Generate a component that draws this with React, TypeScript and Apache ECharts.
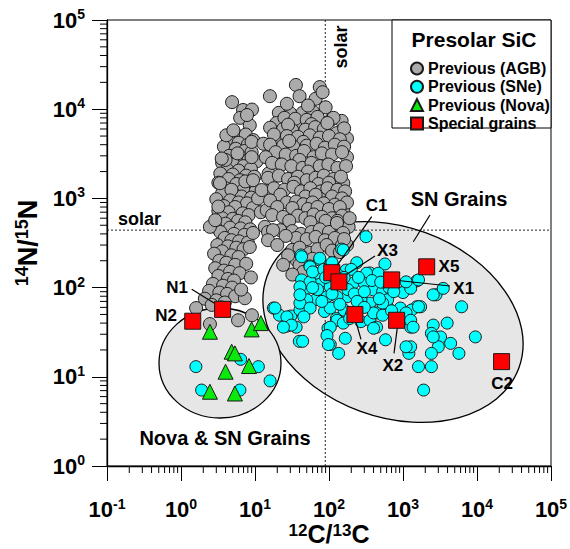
import React, { useEffect, useRef } from 'react';
import * as echarts from 'echarts';

const FONT = 'Liberation Sans, Arial, Helvetica, sans-serif';

// ---- Data: [12C/13C, 14N/15N] ----
const agbLeft: number[][] = [
  [4.9, 12000], [6.9, 9800], [9.1, 9900], [6.3, 8000], [8.5, 6600], [7.8, 8600], [5.2, 5500], [7.5, 5200], [4.3, 4700], [9.5, 4500], [6.0, 4200], [8.0, 4000],
  [3.8, 3800], [5.5, 3600], [7.2, 3400], [9.0, 3300], [4.5, 3000], [6.4, 2900], [8.2, 2700], [3.6, 2500], [5.1, 2400], [10.5, 2600], [7.0, 2300], [4.2, 2100], [6.0, 2050], [8.8, 2150], [5.8, 3200], [4.0, 2700],
  [3.4, 1900], [5.0, 1850], [7.6, 1800], [9.8, 1750], [4.4, 1650], [6.3, 1600], [3.2, 1500], [5.6, 1450], [8.4, 1400], [4.0, 1300], [7.0, 1250], [10.2, 1200], [3.6, 1150], [5.3, 1100], [6.6, 1050], [8.9, 1020], [4.8, 1250], [7.4, 1550],
  [3.0, 980], [4.6, 950], [6.0, 900], [7.8, 880], [3.8, 820], [5.4, 800], [9.4, 780], [3.2, 720], [4.4, 700], [6.8, 680], [8.2, 650], [3.6, 600], [5.0, 590], [5.9, 560], [7.4, 540], [4.0, 520], [12, 700], [11, 1000],
  [2.9, 480], [4.6, 470], [6.4, 460], [8.6, 450], [3.4, 420], [5.2, 400], [7.2, 390], [3.9, 360], [4.8, 340], [6.1, 330], [8.0, 320], [3.1, 300], [4.3, 290], [5.6, 280], [7.0, 270], [3.6, 255], [9.4, 410], [8.5, 285],
  [2.8, 240], [4.8, 230], [6.0, 220], [3.3, 200], [4.1, 190], [5.4, 180], [7.6, 185], [2.9, 165], [3.8, 155], [4.6, 150], [6.2, 145], [3.2, 135], [4.3, 125], [5.2, 120], [2.7, 110], [3.7, 105], [4.9, 100],
  [2.4, 92], [3.3, 88], [4.2, 85], [5.4, 80], [2.1, 75], [3.0, 72], [3.9, 68], [2.6, 64], [7.3, 76], [5.9, 43], [9.1, 49], [1.6, 59], [2.46, 39], [3.5, 60], [6.5, 95], [8.8, 130],
  [4.1, 5100], [5.1, 5800], [9.0, 4300], [3.55, 2800], [9.0, 2900], [3.36, 1480], [9.4, 1600], [3.2, 810], [2.46, 480], [2.9, 570]
];

const agbRight: number[][] = [
  [35.7, 18700], [75, 17700], [15.9, 14000], [40, 14000], [66, 13100], [82, 15500], [21, 9100], [30, 9000], [44, 9100], [61, 9300], [52, 11000], [27, 11500], [90, 10500],
  [19.5, 7000], [40, 6100], [148, 7400], [104, 7500], [128, 5400], [175, 4700], [20, 4500], [20, 3200], [13, 4100], [15.3, 1900], [15.9, 1240], [14.4, 740], [13.6, 480], [156, 1480], [175, 2900], [156, 740], [184, 480], [12.3, 1240],
  [25, 8000], [35, 7800], [50, 7600], [70, 8200], [115, 8000], [58, 6800],
  [16, 6200], [24, 6000], [32, 5800], [48, 5900], [65, 6300], [85, 6000], [160, 6100], [28, 6700], [95, 7000],
  [18, 5200], [27, 5000], [38, 4900], [55, 5100], [75, 4800], [100, 5000], [140, 4600], [45, 4300],
  [16, 4000], [24, 3900], [33, 3800], [50, 3900], [68, 4100], [88, 3700], [120, 4000], [160, 3800], [29, 4400],
  [19, 3300], [26, 3100], [36, 3000], [46, 3400], [62, 2900], [80, 3200], [110, 3100], [150, 3300], [14, 2900], [40, 2700],
  [17, 2500], [23, 2400], [31, 2300], [44, 2200], [58, 2500], [75, 2300], [98, 2400], [130, 2200], [170, 2300], [52, 2000],
  [15, 1700], [21, 1800], [28, 1650], [38, 1750], [50, 1600], [66, 1700], [85, 1800], [115, 1650], [145, 1750], [34, 1500], [72, 1450], [100, 1500],
  [18, 1300], [25, 1250], [33, 1350], [42, 1200], [56, 1300], [78, 1200], [95, 1300], [130, 1250], [165, 1200], [22, 1100], [48, 1050], [66, 1100], [110, 1050], [150, 1000],
  [16, 950], [27, 900], [36, 920], [45, 860], [60, 900], [85, 880], [120, 850], [175, 900], [20, 800], [32, 780], [52, 760], [70, 800], [100, 760], [140, 800],
  [17, 650], [24, 620], [38, 640], [48, 600], [62, 660], [80, 620], [110, 600], [150, 640], [29, 560], [56, 540], [90, 560], [130, 560], [190, 600],
  [15, 420], [22, 440], [32, 430], [42, 400], [58, 420], [75, 450], [100, 420], [128, 530], [155, 410], [36, 360], [50, 350], [66, 370], [88, 340], [120, 360], [26, 380], [17.5, 440],
  [15, 340], [20, 300], [32, 265], [40, 280], [55, 245], [70, 270], [93, 300], [36.5, 203], [40, 180], [60, 210], [28, 230], [110, 260], [150, 300], [24, 180], [45, 150], [32, 140],
  [175, 300], [140, 250], [160, 350]
];

const sneGrains: number[][] = [
  [316, 372], [148, 270], [41.8, 232], [75, 204], [55, 175], [237, 190], [570, 184], [170, 157], [357, 146], [450, 135], [42.6, 122], [47.4, 96], [75, 116], [323, 110],
  [1530, 119], [1170, 102], [1000, 88], [2790, 83], [6200, 61], [9500, 28], [17.7, 59], [21.4, 49], [30.5, 48], [40.5, 56], [27.1, 37], [36, 36], [39.7, 25], [44, 25],
  [97, 35], [104, 23], [166, 27], [126, 45], [160, 56], [270, 41.5], [450, 52], [580, 26], [615, 61], [1100, 41.5], [1530, 61], [1270, 36], [1200, 18.3], [1270, 21.7],
  [2560, 38], [2420, 30.7], [3220, 28], [3000, 21.7], [4400, 23.7], [2420, 18.3], [2420, 13], [1620, 13], [1900, 7.1], [1300, 56], [1730, 61], [5700, 18.3],
  [42.6, 222], [75, 213], [55.5, 171], [66, 145], [156, 264], [322, 145], [463, 145], [212, 112], [300, 112], [400, 94], [530, 90], [620, 73], [530, 67], [357, 67],
  [270, 73], [175, 79], [128, 79], [94, 79], [66, 73], [50, 73], [40.5, 67], [104, 102], [143, 112], [55.5, 116], [40.5, 102], [40.5, 83], [55.5, 59], [87, 54],
  [104, 59], [128, 43], [156, 40], [104, 36], [94, 29], [98, 23], [357, 43], [440, 36], [400, 52], [530, 49], [920, 59], [1100, 52], [1620, 61], [1270, 43],
  [1370, 36], [3950, 40], [1270, 98], [1100, 116], [1620, 122], [2560, 83], [3500, 98], [1100, 21.7], [2560, 28],
  [18.6, 59], [27, 47], [31, 38], [24.2, 36], [45.7, 47], [135, 18.3],
  [60, 150], [85, 160], [110, 190], [200, 160], [250, 130], [180, 95], [220, 85], [300, 90], [90, 130], [130, 140], [70, 95], [160, 130], [240, 70], [300, 60],
  [200, 50], [140, 65], [80, 70], [60, 100], [110, 85], [380, 120], [500, 115], [650, 100], [750, 90], [480, 75], [700, 55], [190, 45], [400, 35],
  [1.59, 13], [1.9, 7.1], [6.25, 7.1], [6.4, 15.7], [11.1, 13], [16, 9.0]
];

const novaGrains: number[][] = [
  [2.46, 32], [9.0, 34], [12.0, 40], [4.84, 19.1], [5.35, 18.3], [8.3, 13.2], [4.0, 11.4], [2.46, 6.8], [5.35, 6.5]
];

const specialNames = ['N1', 'N2', 'C1', 'X3', 'X1', 'X5', 'X4', 'X2', 'C2'];
const specialC = [3.65, 1.44, 109, 136, 703, 2090, 224, 820, 21500];
const specialN = [57, 42, 147, 116, 122, 171, 50, 43, 14.8];

const solarC = 89;
const solarN = 441;

const seriesNames = ['Previous (AGB)', 'Previous (SNe)', 'Previous (Nova)', 'Special grains'];

// ---- Annotation layout (pixels) ----
const labelPos: Record<string, number[]> = {
  N1: [177, 287.5], N2: [166, 315.5], C1: [376.7, 205], X3: [387.5, 250], X1: [463.7, 288.3],
  X5: [449, 266.3], X4: [367, 348.3], X2: [392.8, 365.5], C2: [502, 383]
};
const leaderLines: number[][] = [
  [191.7, 289.3, 221.7, 307.7],
  [371.7, 216.7, 335, 268.3],
  [375, 256, 339.3, 279.3],
  [393.3, 280, 450, 286],
  [355, 318.3, 361, 339.3],
  [398.3, 320, 394, 353.3],
  [430, 215, 413.3, 241.7]
];

function supRich(base: number, sup: number, baseLH: number) {
  return {
    b: { fontSize: base, fontWeight: 'bold', fontFamily: FONT, color: '#000', lineHeight: baseLH },
    s: { fontSize: sup, fontWeight: 'bold', fontFamily: FONT, color: '#000', lineHeight: sup, verticalAlign: 'top' }
  };
}

const powLabel = (v: number) => {
  const e = Math.round(Math.log10(v));
  return `{b|10}{s|${e}}`;
};

function textEl(text: string, x: number, y: number, size: number, z = 6, rotation = 0) {
  return {
    type: 'text', x, y, rotation, z, silent: true,
    style: {
      text, fontSize: size, fontWeight: 'bold', fontFamily: FONT, fill: '#000',
      textAlign: 'center', textVerticalAlign: 'middle', align: 'center', verticalAlign: 'middle'
    }
  };
}

export default function App() {
  const ref = useRef<HTMLDivElement>(null);

  useEffect(() => {
    if (!ref.current) return;
    const chart = echarts.init(ref.current, null, { renderer: 'svg' });

    const xMinor: number[][] = [];
    for (let d = -1; d <= 4; d++) for (let k = 2; k <= 9; k++) xMinor.push([k * Math.pow(10, d), 1]);
    const yMinor: number[][] = [];
    for (let d = 0; d <= 4; d++) for (let k = 2; k <= 9; k++) yMinor.push([0.1, k * Math.pow(10, d)]);

    const special = specialNames.map((n, i) => ({ name: n, value: [specialC[i], specialN[i]] }));

    const graphics: any[] = [
      {
        type: 'ellipse', x: 393, y: 322, rotation: -20 * Math.PI / 180, z: 1, silent: true,
        shape: { cx: 0, cy: 0, rx: 134, ry: 95 },
        style: { fill: '#e6e6e6', stroke: '#000', lineWidth: 1.3 }
      },
      {
        type: 'ellipse', x: 220, y: 363, z: 1, silent: true,
        shape: { cx: 0, cy: 0, rx: 61, ry: 55 },
        style: { fill: '#e6e6e6', stroke: '#000', lineWidth: 1.3 }
      },
      {
        type: 'rect', z: 3, silent: true,
        shape: { x: 392, y: 20, width: 159, height: 108 },
        style: { fill: '#fff', stroke: '#000', lineWidth: 1 }
      },
      textEl('Presolar SiC', 474, 39, 21, 6),
      textEl('SN Grains', 459, 199, 20, 6),
      textEl('Nova & SN Grains', 225, 438, 20, 6),
      textEl('solar', 139.5, 218.5, 18, 6),
      textEl('solar', 340.5, 47, 18, 6, Math.PI / 2)
    ];
    leaderLines.forEach((l) => {
      graphics.push({
        type: 'line', z: 3, silent: true,
        shape: { x1: l[0], y1: l[1], x2: l[2], y2: l[3] },
        style: { stroke: '#000', lineWidth: 1.2 }
      });
    });
    specialNames.forEach((n) => {
      const p = labelPos[n];
      graphics.push(textEl(n, p[0], p[1], 17, 6));
    });

    const sym = (color: string) => ({ color, borderColor: '#1a1a1a', borderWidth: 1, opacity: 1 });

    chart.setOption({
      animation: false,
      backgroundColor: '#fff',
      textStyle: { fontFamily: FONT },
      grid: {
        left: 107, right: 19, top: 20, bottom: 83, show: true, borderColor: '#000', borderWidth: 1,
        backgroundColor: 'transparent', containLabel: false, outerBoundsMode: 'none'
      },
      legend: {
        data: seriesNames,
        orient: 'vertical', left: 405, top: 55,
        itemWidth: 12, itemHeight: 12, itemGap: 1.3,
        selectedMode: false, z: 4,
        textStyle: { fontSize: 16, fontWeight: 'bold', fontFamily: FONT, color: '#000', lineHeight: 17 }
      },
      xAxis: {
        type: 'log', logBase: 10, min: 0.1, max: 100000,
        axisLine: { show: true, onZero: false, lineStyle: { color: '#000', width: 1.3 } },
        axisTick: { show: true, length: 15, lineStyle: { color: '#000', width: 1 } },
        splitLine: { show: false },
        axisLabel: { formatter: powLabel, margin: 31, rich: supRich(22, 14, 24) },
        name: '{s|12}{b|C/}{s|13}{b|C}',
        nameLocation: 'middle', nameGap: 56, nameMoveOverlap: false,
        nameTextStyle: { rich: supRich(25, 17, 24) }
      },
      yAxis: {
        type: 'log', logBase: 10, min: 1, max: 100000,
        axisLine: { show: true, onZero: false, lineStyle: { color: '#000', width: 1.3 } },
        axisTick: { show: true, length: 15, lineStyle: { color: '#000', width: 1 } },
        splitLine: { show: false },
        axisLabel: { formatter: powLabel, margin: 22, rich: supRich(22, 14, 26) },
        name: '{s|14}{b|N/}{s|15}{b|N}',
        nameLocation: 'middle', nameRotate: 90, nameGap: 46,
        nameTextStyle: { rich: supRich(27, 18, 30) }
      },
      graphic: { elements: graphics },
      series: [
        {
          type: 'line', name: 'solarH', data: [[0.1, solarN], [100000, solarN]], symbol: 'none', z: 1.5, silent: true,
          lineStyle: { color: '#222', width: 1, type: [2, 2] }
        },
        {
          type: 'line', name: 'solarV', data: [[solarC, 1], [solarC, 100000]], symbol: 'none', z: 1.5, silent: true,
          lineStyle: { color: '#222', width: 1, type: [2, 2] }
        },
        {
          type: 'custom', name: 'xMinor', data: xMinor, clip: false, silent: true, z: 2,
          renderItem: (_p: any, api: any) => {
            const pt = api.coord([api.value(0), api.value(1)]);
            return { type: 'line', shape: { x1: pt[0], y1: pt[1], x2: pt[0], y2: pt[1] + 7 }, style: { stroke: '#000', lineWidth: 1 } };
          }
        },
        {
          type: 'custom', name: 'yMinor', data: yMinor, clip: false, silent: true, z: 2,
          renderItem: (_p: any, api: any) => {
            const pt = api.coord([api.value(0), api.value(1)]);
            return { type: 'line', shape: { x1: pt[0], y1: pt[1], x2: pt[0] - 7, y2: pt[1] }, style: { stroke: '#000', lineWidth: 1 } };
          }
        },
        {
          type: 'scatter', name: seriesNames[0], data: [...agbLeft, ...agbRight], symbol: 'circle', symbolSize: 13, z: 2,
          itemStyle: sym('#ababab')
        },
        {
          type: 'scatter', name: seriesNames[1], data: sneGrains, symbol: 'circle', symbolSize: 12, z: 2,
          itemStyle: sym('#00ffff')
        },
        {
          type: 'scatter', name: seriesNames[2], data: novaGrains, symbol: 'triangle', symbolSize: 15, z: 2,
          itemStyle: sym('#0be80b')
        },
        {
          type: 'scatter', name: seriesNames[3], data: special, symbol: 'rect', symbolSize: 16, z: 4,
          itemStyle: sym('#ff0000')
        }
      ]
    });

    return () => chart.dispose();
  }, []);

  return <div ref={ref} style={{ position: 'fixed', left: 0, top: 0, width: 570, height: 549 }} />;
}
